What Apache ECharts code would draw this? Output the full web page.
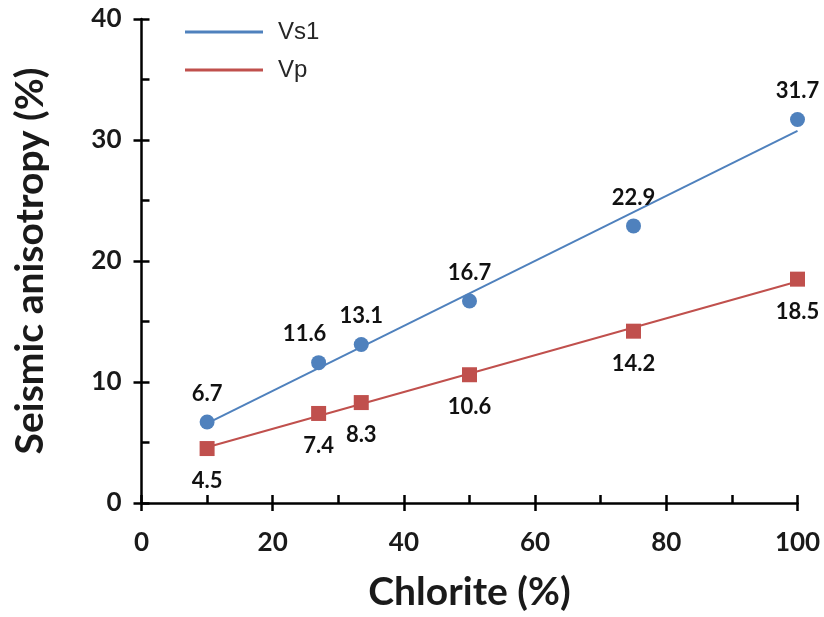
<!DOCTYPE html>
<html>
<head>
<meta charset="utf-8">
<title>Seismic anisotropy vs chlorite content</title>
<script src="https://cdn.jsdelivr.net/npm/echarts@6/dist/echarts.min.js"></script>
<style>
  html, body { margin: 0; padding: 0; background: #ffffff; }
  #chart { width: 824px; height: 617px; }
</style>
</head>
<body>
<div id="chart"></div>
<script>
// Chlorite content (%) of each sample
const chlorite = [10, 27, 33.5, 50, 75, 100];
// Seismic anisotropy (%) per sample
const vs1 = [6.7, 11.6, 13.1, 16.7, 22.9, 31.7];
const vp = [4.5, 7.4, 8.3, 10.6, 14.2, 18.5];

const xTicks = { min: 0, max: 100, interval: 20 };
const yTicks = { min: 0, max: 40, interval: 10 };

const BLUE = '#4f81bd';
const RED = '#c0504d';
const NUM_FONT = 'Lato, "Open Sans", sans-serif';

// Least-squares straight line through the samples
function linearFit(xs, ys) {
  const n = xs.length;
  const mx = xs.reduce((a, b) => a + b, 0) / n;
  const my = ys.reduce((a, b) => a + b, 0) / n;
  let sxy = 0, sxx = 0;
  for (let i = 0; i < n; i++) {
    sxy += (xs[i] - mx) * (ys[i] - my);
    sxx += (xs[i] - mx) * (xs[i] - mx);
  }
  const slope = sxy / sxx;
  const icpt = my - slope * mx;
  const x0 = Math.min(...xs), x1 = Math.max(...xs);
  return [[x0, icpt + slope * x0], [x1, icpt + slope * x1]];
}

const pairs = (ys) => chlorite.map((x, i) => [x, ys[i]]);

const axisLine = { lineStyle: { color: '#000', width: 2.5 } };
const tickStyle = { color: '#000', width: 2.5 };

const chart = echarts.init(document.getElementById('chart'), null, { renderer: 'canvas' });

chart.setOption({
  backgroundColor: '#ffffff',
  animation: false,
  grid: { left: 141.5, right: 26.5, top: 19, bottom: 113, containLabel: false },
  legend: {
    orient: 'vertical',
    left: 185,
    top: 19,
    padding: 0,
    itemWidth: 78,
    itemHeight: 3,
    itemGap: 12,
    selectedMode: false,
    textStyle: {
      fontFamily: '"Liberation Sans", Arial, sans-serif',
      fontSize: 24,
      lineHeight: 26,
      color: '#262626',
      padding: [0, 0, 0, 10]
    },
    data: [
      { name: 'Vs1', icon: 'rect', itemStyle: { color: BLUE } },
      { name: 'Vp', icon: 'rect', itemStyle: { color: RED } }
    ]
  },
  xAxis: [
    {
      type: 'value',
      min: xTicks.min, max: xTicks.max, interval: xTicks.interval,
      name: 'Chlorite (%)',
      nameLocation: 'middle',
      nameGap: 70,
      nameTextStyle: { fontFamily: NUM_FONT, fontSize: 39, fontWeight: 'bold', color: '#1a1a1a' },
      axisLine: axisLine,
      axisTick: { show: true, inside: true, length: 8, lineStyle: tickStyle },
      minorTick: { show: true, splitNumber: 2, length: 8, lineStyle: tickStyle },
      axisLabel: { margin: 27, fontFamily: NUM_FONT, fontSize: 26, fontWeight: 'bold', color: '#1a1a1a' },
      splitLine: { show: false }
    },
    {
      type: 'value', position: 'bottom',
      min: xTicks.min, max: xTicks.max, interval: xTicks.interval,
      axisLine: { show: false },
      axisTick: { show: true, inside: false, length: 8, lineStyle: tickStyle },
      axisLabel: { show: false },
      splitLine: { show: false }
    }
  ],
  yAxis: [
    {
      type: 'value',
      min: yTicks.min, max: yTicks.max, interval: yTicks.interval,
      name: 'Seismic anisotropy (%)',
      nameLocation: 'middle',
      nameGap: 92,
      nameRotate: 90,
      nameTextStyle: { fontFamily: NUM_FONT, fontSize: 39, fontWeight: 'bold', color: '#1a1a1a' },
      axisLine: axisLine,
      axisTick: { show: true, inside: true, length: 8, lineStyle: tickStyle },
      minorTick: { show: true, splitNumber: 2, length: 8, lineStyle: tickStyle },
      axisLabel: { margin: 20, fontFamily: NUM_FONT, fontSize: 26, fontWeight: 'bold', color: '#1a1a1a' },
      splitLine: { show: false }
    },
    {
      type: 'value', position: 'left', offset: 0,
      min: yTicks.min, max: yTicks.max, interval: yTicks.interval,
      axisLine: { show: false },
      axisTick: { show: true, inside: false, length: 8, lineStyle: tickStyle },
      axisLabel: { show: false },
      splitLine: { show: false }
    }
  ],
  series: [
    {
      name: 'Vs1', type: 'line',
      data: linearFit(chlorite, vs1),
      showSymbol: false, symbol: 'none',
      lineStyle: { color: BLUE, width: 2 },
      itemStyle: { color: BLUE },
      z: 2, silent: true
    },
    {
      name: 'Vp', type: 'line',
      data: linearFit(chlorite, vp),
      showSymbol: false, symbol: 'none',
      lineStyle: { color: RED, width: 2 },
      itemStyle: { color: RED },
      z: 2, silent: true
    },
    {
      name: 'Vs1', type: 'scatter',
      data: pairs(vs1).map((p, i) => i === 1
        ? { value: p, label: { offset: [-14, 0] } }
        : { value: p }),
      symbol: 'circle', symbolSize: 15,
      itemStyle: { color: BLUE, opacity: 1 },
      label: {
        show: true, position: 'top', distance: 10,
        formatter: (p) => p.value[1].toFixed(1),
        fontFamily: NUM_FONT, fontSize: 22, fontWeight: 'bold', color: '#111'
      },
      z: 3
    },
    {
      name: 'Vp', type: 'scatter',
      data: pairs(vp),
      symbol: 'rect', symbolSize: 15,
      itemStyle: { color: RED, opacity: 1 },
      label: {
        show: true, position: 'bottom', distance: 14,
        formatter: (p) => p.value[1].toFixed(1),
        fontFamily: NUM_FONT, fontSize: 22, fontWeight: 'bold', color: '#111'
      },
      z: 3
    }
  ]
});
</script>
</body>
</html>
